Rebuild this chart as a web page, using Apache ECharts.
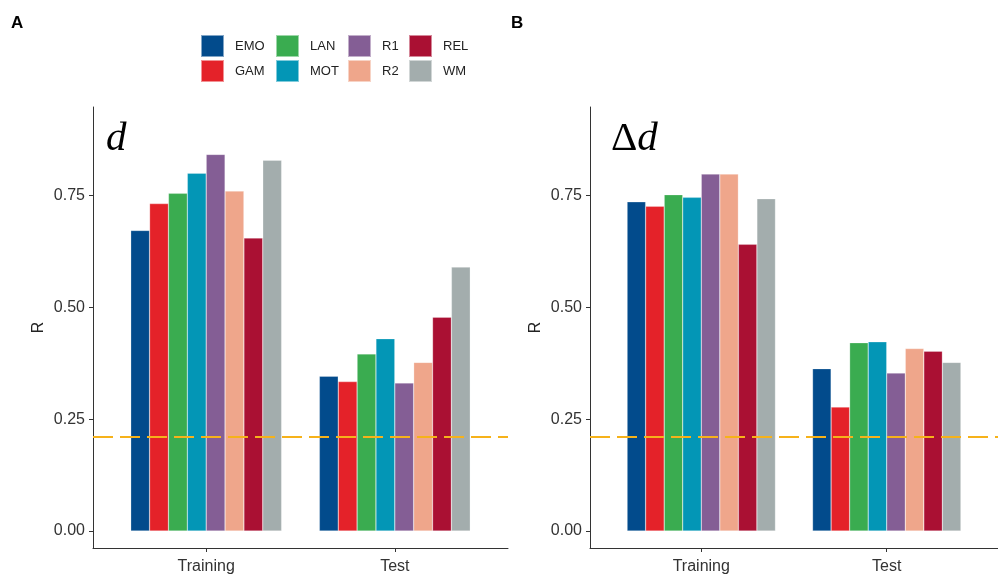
<!DOCTYPE html>
<html>
<head>
<meta charset="utf-8">
<title>R by module</title>
<script src="https://cdn.jsdelivr.net/npm/echarts@6/dist/echarts.min.js"></script>
<style>
  html, body { margin: 0; padding: 0; background: #fff; }
  #main { width: 998px; height: 579px; }
</style>
</head>
<body>
<div id="main"></div>
<script>
// groups on the x axis (placed at 1 and 2)
var groups = ['Training', 'Test'];
var modules = ['EMO', 'GAM', 'LAN', 'MOT', 'R1', 'R2', 'REL', 'WM'];
var moduleColors = ['#024B8C', '#E42229', '#3AAC50', '#0396B6', '#845E95', '#EFA68B', '#AA1033', '#A3ADAD'];

// panel A: d
var dTraining = [0.672, 0.732, 0.755, 0.800, 0.842, 0.760, 0.655, 0.829];
var dTest = [0.346, 0.334, 0.396, 0.430, 0.331, 0.377, 0.478, 0.590];
// panel B: delta d
var ddTraining = [0.736, 0.726, 0.752, 0.746, 0.798, 0.798, 0.641, 0.743];
var ddTest = [0.363, 0.277, 0.421, 0.423, 0.353, 0.408, 0.402, 0.377];

var chanceLevel = 0.21;
var yTicks = [0, 0.25, 0.5, 0.75];

var chart = echarts.init(document.getElementById('main'));

function makeSeries(train, test, idx) {
  return modules.map(function (name, i) {
    var s = {
      name: name,
      type: 'bar',
      xAxisIndex: idx,
      yAxisIndex: idx,
      barGap: '0%',
      barCategoryGap: '20%',
      itemStyle: { color: moduleColors[i], borderColor: 'rgba(255,255,255,0.5)', borderWidth: 0.5 },
      emphasis: { disabled: true },
      data: [[1, train[i]], [2, test[i]]]
    };
    if (i == 0) {
      s.markLine = {
        silent: true,
        symbol: 'none',
        label: { show: false },
        lineStyle: { color: '#F6B21A', type: [20, 7], width: 2 },
        data: [{ yAxis: chanceLevel }]
      };
    }
    return s;
  });
}

function xAxisOpt(idx) {
  return {
    type: 'value',
    gridIndex: idx,
    min: 0.4,
    max: 2.6,
    splitLine: { show: false },
    axisLine: { show: true, onZero: false, lineStyle: { color: '#333', width: 1 } },
    axisTick: { show: true, customValues: [1, 2], length: 4, lineStyle: { color: '#333' } },
    axisLabel: {
      customValues: [1, 2],
      margin: 11,
      color: '#333',
      fontSize: 16,
      fontFamily: 'Liberation Sans, Arial, sans-serif',
      formatter: function (v) { return groups[Math.round(v) - 1]; }
    }
  };
}

function yAxisOpt(idx) {
  return {
    type: 'value',
    gridIndex: idx,
    min: -0.038,
    max: 0.948,
    name: 'R',
    nameLocation: 'middle',
    nameGap: 46,
    nameRotate: 90,
    nameTextStyle: { color: '#222', fontSize: 16, fontFamily: 'Liberation Sans, Arial, sans-serif' },
    splitLine: { show: false },
    axisLine: { show: true, onZero: false, lineStyle: { color: '#333', width: 1 } },
    axisTick: { show: true, customValues: yTicks, length: 4, lineStyle: { color: '#333' } },
    axisLabel: {
      customValues: yTicks,
      margin: 8,
      color: '#333',
      fontSize: 16,
      fontFamily: 'Liberation Sans, Arial, sans-serif',
      formatter: function (v) { return v.toFixed(2); }
    }
  };
}

var legendCols = [['EMO', 'GAM'], ['LAN', 'MOT'], ['R1', 'R2'], ['REL', 'WM']];
var legendLefts = [200, 275, 347, 408];
var legends = legendCols.map(function (col, i) {
  return {
    orient: 'vertical',
    left: legendLefts[i],
    top: 34,
    padding: 0,
    itemGap: 1,
    itemWidth: 23,
    itemHeight: 22,
    icon: 'rect',
    selectedMode: false,
    data: col,
    textStyle: { color: '#222', fontSize: 13, fontFamily: 'Liberation Sans, Arial, sans-serif', padding: [0, 0, 0, 6] }
  };
});

var option = {
  backgroundColor: '#fff',
  animation: false,
  color: moduleColors,
  title: [
    { text: 'A', left: 11, top: 15, padding: 0, textStyle: { fontSize: 17, fontWeight: 'bold', color: '#000', fontFamily: 'Liberation Sans, Arial, sans-serif' } },
    { text: 'B', left: 511, top: 15, padding: 0, textStyle: { fontSize: 17, fontWeight: 'bold', color: '#000', fontFamily: 'Liberation Sans, Arial, sans-serif' } },
    { text: 'd', left: 106, top: 119, padding: 0, textStyle: { fontSize: 41, fontStyle: 'italic', fontWeight: 'normal', color: '#000', fontFamily: 'Liberation Serif, serif' } },
    {
      text: '{a|Δ}{b|d}', left: 611, top: 119, padding: 0,
      textStyle: {
        fontWeight: 'normal',
        rich: {
          a: { fontSize: 41, fontWeight: 'normal', color: '#000', fontFamily: 'Liberation Serif, serif' },
          b: { fontSize: 41, fontWeight: 'normal', fontStyle: 'italic', color: '#000', fontFamily: 'Liberation Serif, serif' }
        }
      }
    }
  ],
  legend: legends,
  grid: [
    { left: 93, top: 107, width: 415, height: 441 },
    { left: 590, top: 107, width: 415, height: 441 }
  ],
  xAxis: [xAxisOpt(0), xAxisOpt(1)],
  yAxis: [yAxisOpt(0), yAxisOpt(1)],
  series: makeSeries(dTraining, dTest, 0).concat(makeSeries(ddTraining, ddTest, 1))
};

chart.setOption(option);
</script>
</body>
</html>
